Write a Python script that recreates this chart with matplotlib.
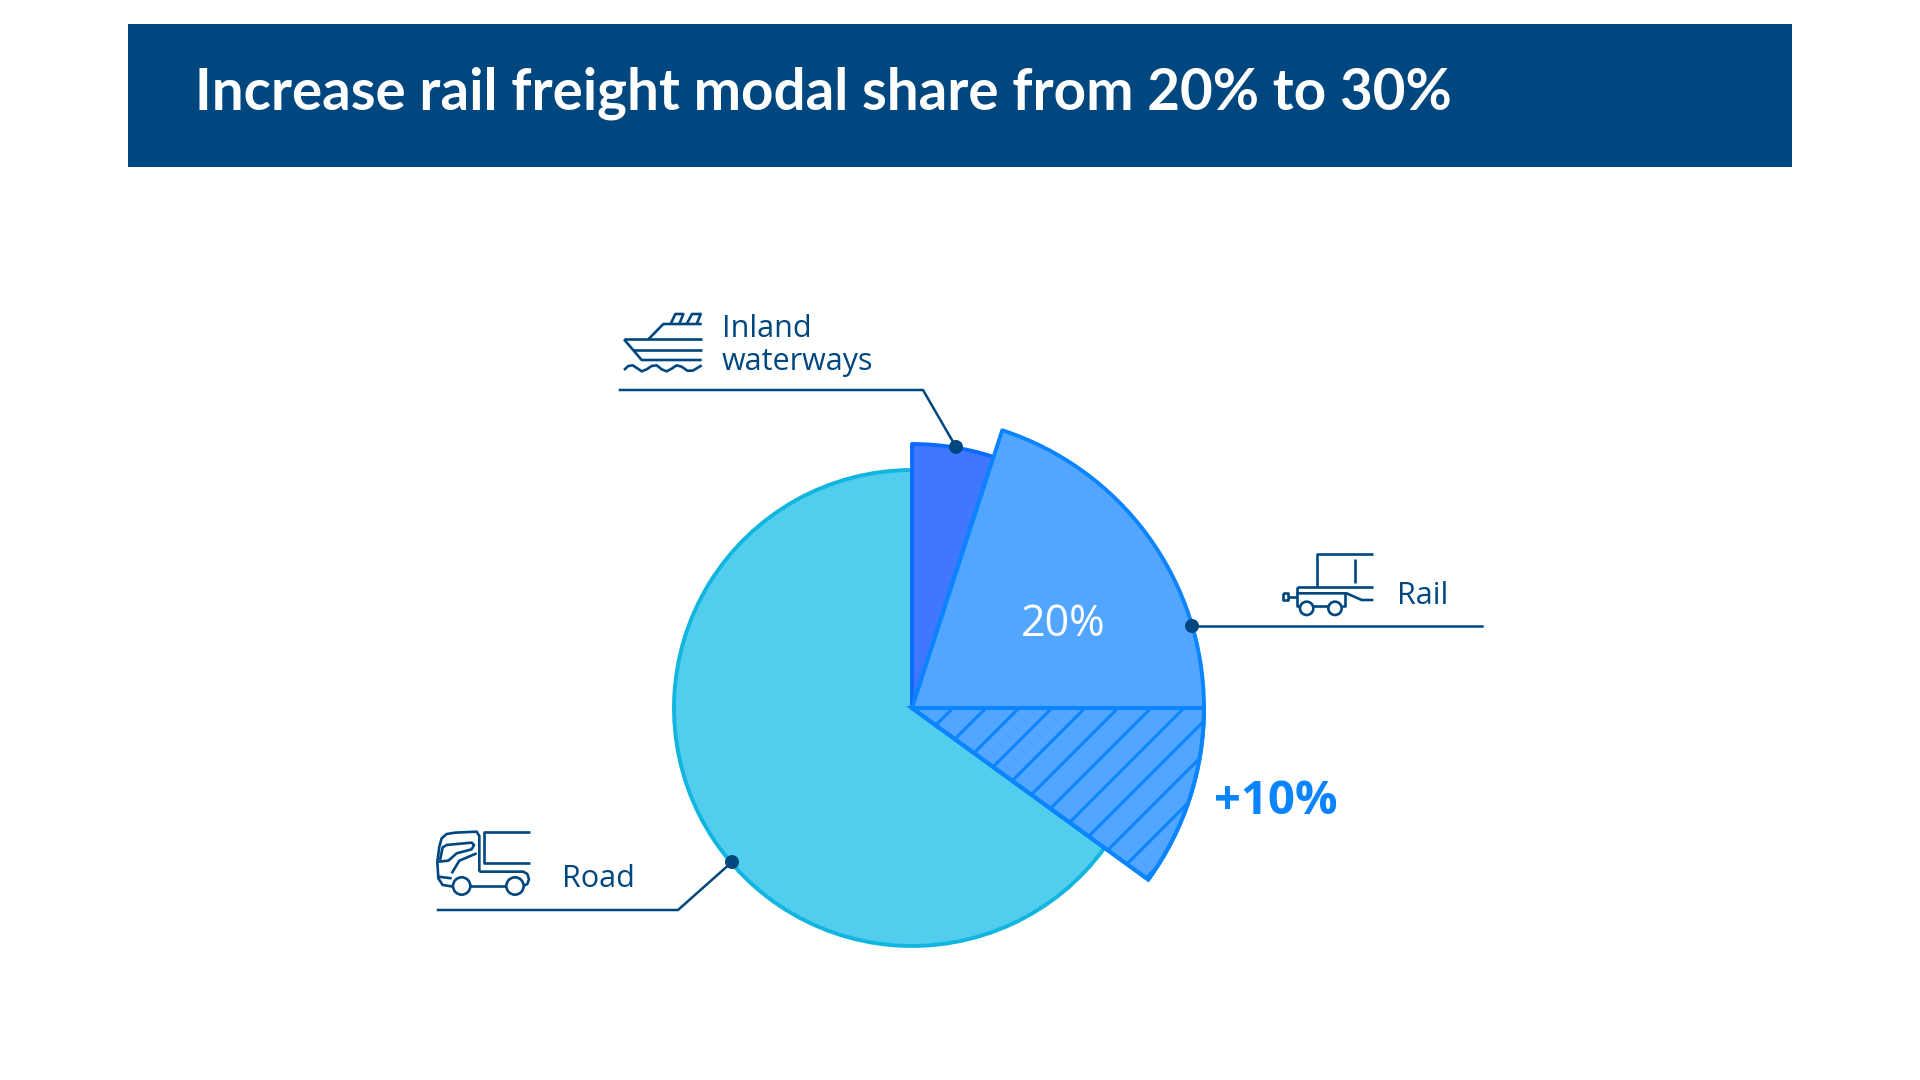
import matplotlib
matplotlib.use('Agg')
import matplotlib.pyplot as plt
from matplotlib.patches import Circle, Rectangle, Wedge

plt.rcParams['font.family'] = ['Open Sans', 'DejaVu Sans']

# modal shares in percent, clockwise from twelve o'clock
modes = ['Inland waterways', 'Rail', 'Rail increase', 'Road']
shares = [5, 20, 10, 65]
title = 'Increase rail freight modal share from 20% to 30%'
rail_label = '20%'
increase_label = '+10%'

NAVY = '#00477F'
BLUE = '#0A84FF'

center = (912, 708)
radius = {'Inland waterways': 264, 'Rail': 292, 'Rail increase': 292, 'Road': 238}
fill = {'Inland waterways': '#3F78FF', 'Rail': '#53A6FF', 'Rail increase': '#53A6FF', 'Road': '#52CDEE'}
edge = {'Inland waterways': '#0A6CFF', 'Rail': BLUE, 'Rail increase': BLUE, 'Road': '#10B6DF'}
z_order = {'Inland waterways': 2, 'Rail': 3, 'Rail increase': 4, 'Road': 1}

fig = plt.figure(figsize=(19.2, 10.8), dpi=100)
ax = fig.add_axes([0, 0, 1, 1])
ax.set_xlim(0, 1920)
ax.set_ylim(1080, 0)  # y runs down, so wedge angles run clockwise
ax.axis('off')


def icon(x0, y0, lines, wheels=()):
    # icon outlines are noted at 3x scale from their top-left corner
    for pts in lines:
        xs = [x0 + p[0] / 3 for p in pts]
        ys = [y0 + p[1] / 3 for p in pts]
        ax.plot(xs, ys, c=NAVY, lw=1.9, solid_capstyle='butt', solid_joinstyle='round', zorder=6)
    for cx, cy, r in wheels:
        ax.add_patch(Circle((x0 + cx / 3, y0 + cy / 3), r / 3, fc='white', ec=NAVY, lw=1.9, zorder=7))


# header band
ax.add_patch(Rectangle((128, 24), 1664, 143, fc='#00477F', ec='none'))
ax.text(195, 110, title, color='white', fontsize=40.7, fontweight='bold', family=['Lato', 'DejaVu Sans'], va='baseline')

# pie wedges with a different radius per mode
wedges = {}
start = -90
for mode, share in zip(modes, shares):
    end = start + share * 3.6
    w = Wedge(center, radius[mode], start, end, fc=fill[mode], ec=edge[mode], lw=2.8,
              joinstyle='round', zorder=z_order[mode])
    ax.add_patch(w)
    wedges[mode] = w
    start = end

# diagonal hatching on the increase wedge
for x_top in range(953, 1460, 33):
    ln, = ax.plot([x_top, x_top - 400], [708, 1108], c=BLUE, lw=2.2, zorder=5)
    ln.set_clip_path(wedges['Rail increase'])

# redraw the increase outline on top of the hatching
ax.add_patch(Wedge(center, 292, 0, shares[2] * 3.6, fc='none', ec=BLUE, lw=2.8, zorder=5.5))

ax.text(1063, 619, rail_label, color='white', fontsize=31, ha='center', va='center_baseline', zorder=6)
ax.text(1214, 814, increase_label, color=BLUE, fontsize=34, fontweight='bold', va='baseline', zorder=6)

# leader lines with their end dots
leaders = [
    ([620, 923, 956], [390, 390, 447]),
    ([1192, 1482], [626, 626]),
    ([438, 678, 732], [910, 910, 862]),
]
for xs, ys in leaders:
    ax.plot(xs, ys, c=NAVY, lw=1.8, solid_joinstyle='round', zorder=6)
    ax.add_patch(Circle((xs[-1] if xs[0] < 1000 else xs[0], ys[-1]), 7, fc=NAVY, ec='none', zorder=7))

# mode labels
ax.text(722, 337, 'Inland', color=NAVY, fontsize=22, va='baseline')
ax.text(722, 370, 'waterways', color=NAVY, fontsize=22, va='baseline')
ax.text(1397, 604, 'Rail', color=NAVY, fontsize=22, va='baseline')
ax.text(562, 887, 'Road', color=NAVY, fontsize=22, va='baseline')

# ship
icon(600, 290, [
    [(72, 148), (305, 148)],
    [(72, 148), (125, 210), (305, 210)],
    [(100, 180), (305, 180)],
    [(145, 148), (190, 102), (305, 102)],
    [(212, 102), (226, 72), (250, 72), (238, 102)],
    [(260, 102), (276, 72), (302, 72), (290, 102)],
    [(72, 240), (85, 228), (98, 226), (112, 235), (125, 244), (140, 238), (155, 228),
     (170, 226), (185, 238), (200, 244), (215, 236), (230, 226), (245, 230), (262, 242),
     (278, 242), (292, 234), (305, 226)],
])

# wagon
icon(1260, 530, [
    [(340, 73), (172, 73), (172, 170)],
    [(110, 170), (340, 170)],
    [(285, 88), (285, 158)],
    [(120, 228), (110, 228), (110, 170)],
    [(110, 190), (260, 190), (305, 210), (340, 210)],
    [(245, 228), (255, 228), (255, 190)],
    [(160, 228), (205, 228)],
    [(110, 200), (85, 200)],
    [(70, 188), (85, 188), (85, 210), (70, 210), (70, 188)],
], wheels=[(140, 235, 20), (225, 235, 20)])

# truck
icon(420, 810, [
    [(330, 65), (192, 65), (192, 160), (330, 160)],
    [(178, 185), (178, 78), (170, 65), (105, 68), (80, 72), (65, 85), (58, 110), (52, 155),
     (55, 205), (68, 225), (100, 230)],
    [(150, 228), (258, 228)],
    [(310, 228), (322, 222), (327, 208), (322, 192), (310, 185), (178, 185)],
    [(55, 155), (85, 152), (110, 130), (155, 118), (162, 105), (155, 98), (110, 102), (80, 105), (68, 112), (60, 150)],
    [(95, 190), (118, 152), (170, 130)],
    [(55, 200), (95, 205)],
], wheels=[(125, 228, 26), (285, 228, 26)])

fig.savefig('out.png', dpi=100)
